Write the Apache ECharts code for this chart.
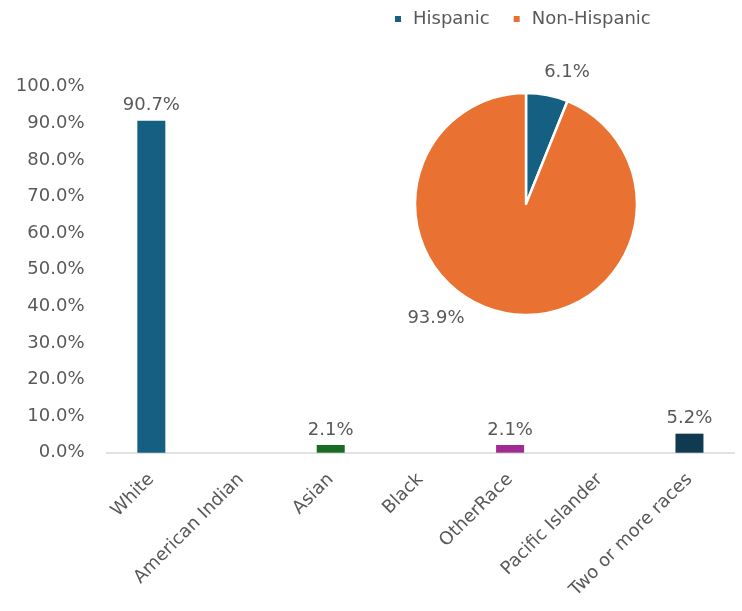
<!DOCTYPE html>
<html>
<head>
<meta charset="utf-8">
<script src="https://cdn.jsdelivr.net/npm/echarts@6/dist/echarts.min.js"></script>
<style>
html,body{margin:0;padding:0;background:#fff;}
#chart{width:742px;height:611px;}
</style>
</head>
<body>
<div id="chart"></div>
<script>
var categories = ['White','American Indian','Asian','Black','OtherRace','Pacific Islander','Two or more races'];
var raceValues = [90.7, null, 2.1, null, 2.1, null, 5.2];
var barColors = ['#156082','#156082','#196B24','#156082','#A02B93','#156082','#0F3A50'];
var pieNames = ['Hispanic','Non-Hispanic'];
var pieValues = [6.1, 93.9];
var pieColors = ['#156082','#E97132'];

var FONT = 'DejaVu Sans';
var GRAY = '#595959';

var chart = echarts.init(document.getElementById('chart'), null, {renderer:'canvas'});
var barData = raceValues.map(function(v,i){
  return {value:v, itemStyle:{color:barColors[i]}};
});
var pieData = pieValues.map(function(v,i){
  return {name:pieNames[i], value:v, itemStyle:{color:pieColors[i]}};
});

chart.setOption({
  animation:false,
  textStyle:{fontFamily:FONT},
  legend:{
    data:pieNames,
    top:5, left:388,
    icon:'rect', itemWidth:8, itemHeight:8, itemGap:22,
    textStyle:{fontFamily:FONT, fontSize:18, color:GRAY, padding:[0,0,0,6]}
  },
  grid:{left:106.5, right:7.7, top:86.7, bottom:158.3, containLabel:false},
  xAxis:{
    type:'category', data:categories,
    axisLine:{lineStyle:{color:'#D9D9D9', width:1.5}},
    axisTick:{show:false},
    axisLabel:{rotate:45, interval:0, margin:24, fontFamily:FONT, fontSize:18, color:GRAY}
  },
  yAxis:{
    type:'value', min:0, max:100, interval:10,
    axisLine:{show:false}, axisTick:{show:false},
    splitLine:{show:false},
    axisLabel:{formatter:function(v){return v.toFixed(1)+'%';}, fontFamily:FONT, fontSize:18, color:GRAY, margin:22}
  },
  series:[
    {
      type:'bar', data:barData, barWidth:28,
      label:{show:true, position:'top', distance:6, fontFamily:FONT, fontSize:18, color:GRAY,
        formatter:function(p){return p.value==null?'':p.value.toFixed(1)+'%';}}
    },
    {
      type:'pie', center:[526,204], radius:111, startAngle:90, clockwise:true,
      data:pieData,
      itemStyle:{borderColor:'#fff', borderWidth:2.5},
      label:{show:true, position:'outside', fontFamily:FONT, fontSize:18, color:GRAY,
        formatter:function(p){return p.value.toFixed(1)+'%';}},
      labelLine:{show:false},
      labelLayout:function(p){
        if(p.dataIndex===0){return {x:567, y:72, align:'center', verticalAlign:'middle'};}
        return {x:436, y:318, align:'center', verticalAlign:'middle'};
      },
      emphasis:{disabled:true}
    }
  ]
});
</script>
</body>
</html>
